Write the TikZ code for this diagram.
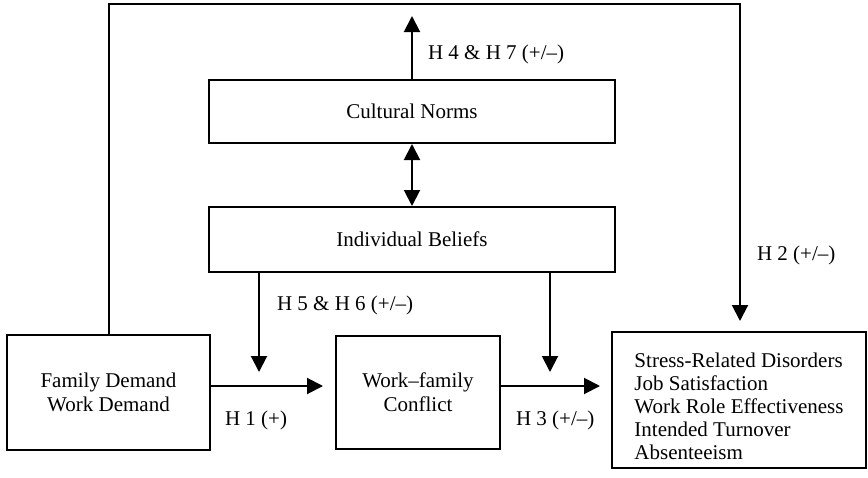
\documentclass[tikz,border=0pt]{standalone}
\usepackage{fontspec}
\setmainfont{Liberation Serif}
\usetikzlibrary{arrows.meta}
\begin{document}
\begin{tikzpicture}[x=1pt,y=-1pt,line width=2pt,
  box/.style={draw,rectangle,inner sep=0pt,align=center,
    font=\fontsize{21}{24}\selectfont},
  lbl/.style={anchor=west,inner sep=0pt,font=\fontsize{21}{24}\selectfont},
  arr/.style={-{Triangle[length=16pt,width=16pt]}},
  dbl/.style={{Triangle[length=16pt,width=16pt]}-{Triangle[length=16pt,width=16pt]}}]
\useasboundingbox (0,0) rectangle (868,477);

% boxes
\node[box,minimum width=406pt,minimum height=63pt] (cn) at (412,111.5) {Cultural Norms};
\node[box,minimum width=406pt,minimum height=65pt] (ib) at (412,239.5) {Individual Beliefs};
\node[box,minimum width=203pt,minimum height=115pt] (fam) at (108.5,392.5) {Family Demand\\Work Demand};
\node[box,minimum width=164pt,minimum height=113pt] (wfc) at (418,392.5) {Work--family\\Conflict};
\node[box,minimum width=254pt,minimum height=136pt,align=left,
  font=\fontsize{21}{23}\selectfont] (out) at (739,400)
  {\rule{0pt}{27pt}Stress-Related Disorders\\Job Satisfaction\\Work Role Effectiveness\\Intended Turnover\\Absenteeism};

% free ends of connectors
\coordinate (top) at (0,4);
\coordinate (cntip) at (412,16);
\coordinate (m1) at (259,372);
\coordinate (m3) at (550,372);
\coordinate (h1tip) at (323,386);
\coordinate (h3tip) at (600,386);

% connectors
\draw[arr] (fam.north) -- (fam.north |- top) -| ([xshift=1pt,yshift=10pt]out.north);
\draw[arr] (cn.north) -- (cntip);
\draw[dbl] (ib.north) -- (cn.south);
\draw[arr] (ib.south -| m1) -- (m1);
\draw[arr] (ib.south -| m3) -- (m3);
\draw[arr] (h1tip -| fam.east) -- (h1tip);
\draw[arr] (h3tip -| wfc.east) -- (h3tip);

% hypothesis labels
\node[lbl] (l47) at (427,54) {H 4 \& H 7 (+/–)};
\node[lbl] (l2) at (756,255) {H 2 (+/–)};
\node[lbl] (l56) at (276,305) {H 5 \& H 6 (+/–)};
\node[lbl] (l1) at (224,420) {H 1 (+)};
\node[lbl] (l3) at (515,420) {H 3 (+/–)};
\end{tikzpicture}
\end{document}
